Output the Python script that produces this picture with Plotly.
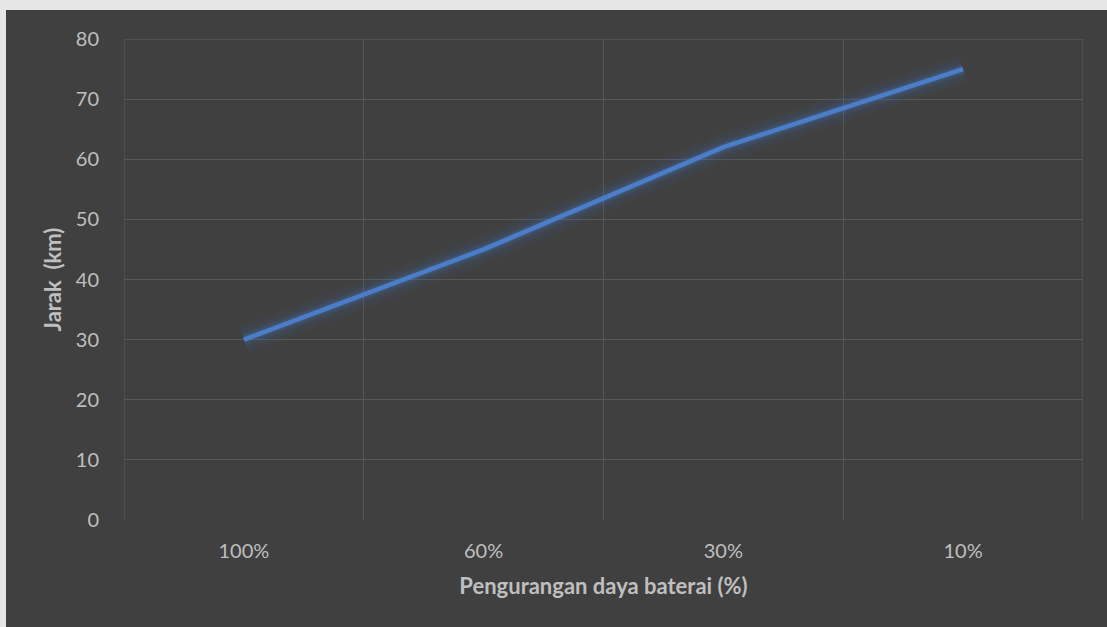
import plotly.graph_objects as go

# Remaining battery level and distance covered
battery_levels = ["100%", "60%", "30%", "10%"]
distance_km = [30, 45, 62, 75]

x_title = "Pengurangan daya baterai (%)"
y_title = "Jarak  (km)"

BG = "#404040"
GRID = "#575757"
TEXT = "#bfbfbf"
LINE = "#4a7ec8"
FONT = "Lato, Calibri, 'Open Sans', sans-serif"

xpos = list(range(len(battery_levels)))
x_lo, x_hi = -0.5, len(battery_levels) - 0.5
y_lo, y_hi = 0, 80

fig = go.Figure()

# soft glow under the series line
for width, alpha in [(28, 0.05), (20, 0.08), (13, 0.13), (8, 0.2)]:
    fig.add_trace(go.Scatter(
        x=xpos, y=distance_km, mode="lines",
        line=dict(color=f"rgba(68,114,196,{alpha})", width=width),
        hoverinfo="skip", showlegend=False,
    ))

fig.add_trace(go.Scatter(
    x=xpos, y=distance_km, mode="lines",
    line=dict(color=LINE, width=4.5),
    showlegend=False,
))

# boundary gridlines (left, right, top) of the plot area
for kw in (dict(x0=x_lo, x1=x_lo, y0=y_lo, y1=y_hi),
           dict(x0=x_hi, x1=x_hi, y0=y_lo, y1=y_hi),
           dict(x0=x_lo, x1=x_hi, y0=y_hi, y1=y_hi)):
    fig.add_shape(type="line", xref="x", yref="y", line=dict(color=GRID, width=1.3),
                  layer="below", **kw)

# light frame along the top and left edges
fig.add_shape(type="rect", xref="paper", yref="paper", x0=-0.14, x1=1.05,
              y0=(520 - 10) / 481, y1=1.1, fillcolor="#e6e6e6", line_width=0, layer="above")
fig.add_shape(type="rect", xref="paper", yref="paper", x0=-0.14, x1=(6 - 124) / 959,
              y0=-0.3, y1=1.1, fillcolor="#e6e6e6", line_width=0, layer="above")

fig.update_layout(
    width=1107, height=627,
    margin=dict(l=124, r=24, t=39, b=107),
    paper_bgcolor=BG, plot_bgcolor=BG,
    font=dict(family=FONT, color=TEXT, size=20),
    showlegend=False,
)

fig.update_xaxes(
    range=[x_lo, x_hi],
    tickmode="array", tickvals=xpos, ticktext=battery_levels,
    showgrid=False, zeroline=False, showline=False,
    ticks="", ticklabelstandoff=17,
    tickfont=dict(size=20, color=TEXT),
    minor=dict(tickvals=[0.5, 1.5, 2.5], showgrid=True,
               gridcolor=GRID, gridwidth=1.3),
    title=dict(text=f"<b>{x_title}</b>", font=dict(size=22, color=TEXT), standoff=17),
    fixedrange=True,
)

fig.update_yaxes(
    range=[y_lo, y_hi], tickmode="array", tickvals=list(range(0, 81, 10)),
    showgrid=False, zeroline=False, showline=False,
    ticks="", ticklabelstandoff=24,
    tickfont=dict(size=20, color=TEXT),
    minor=dict(tickvals=list(range(10, 80, 10)), showgrid=True,
               gridcolor=GRID, gridwidth=1.3),
    title=dict(text=f"<b>{y_title}</b>", font=dict(size=22, color=TEXT), standoff=8),
    fixedrange=True,
)

fig.write_html("out.html")
